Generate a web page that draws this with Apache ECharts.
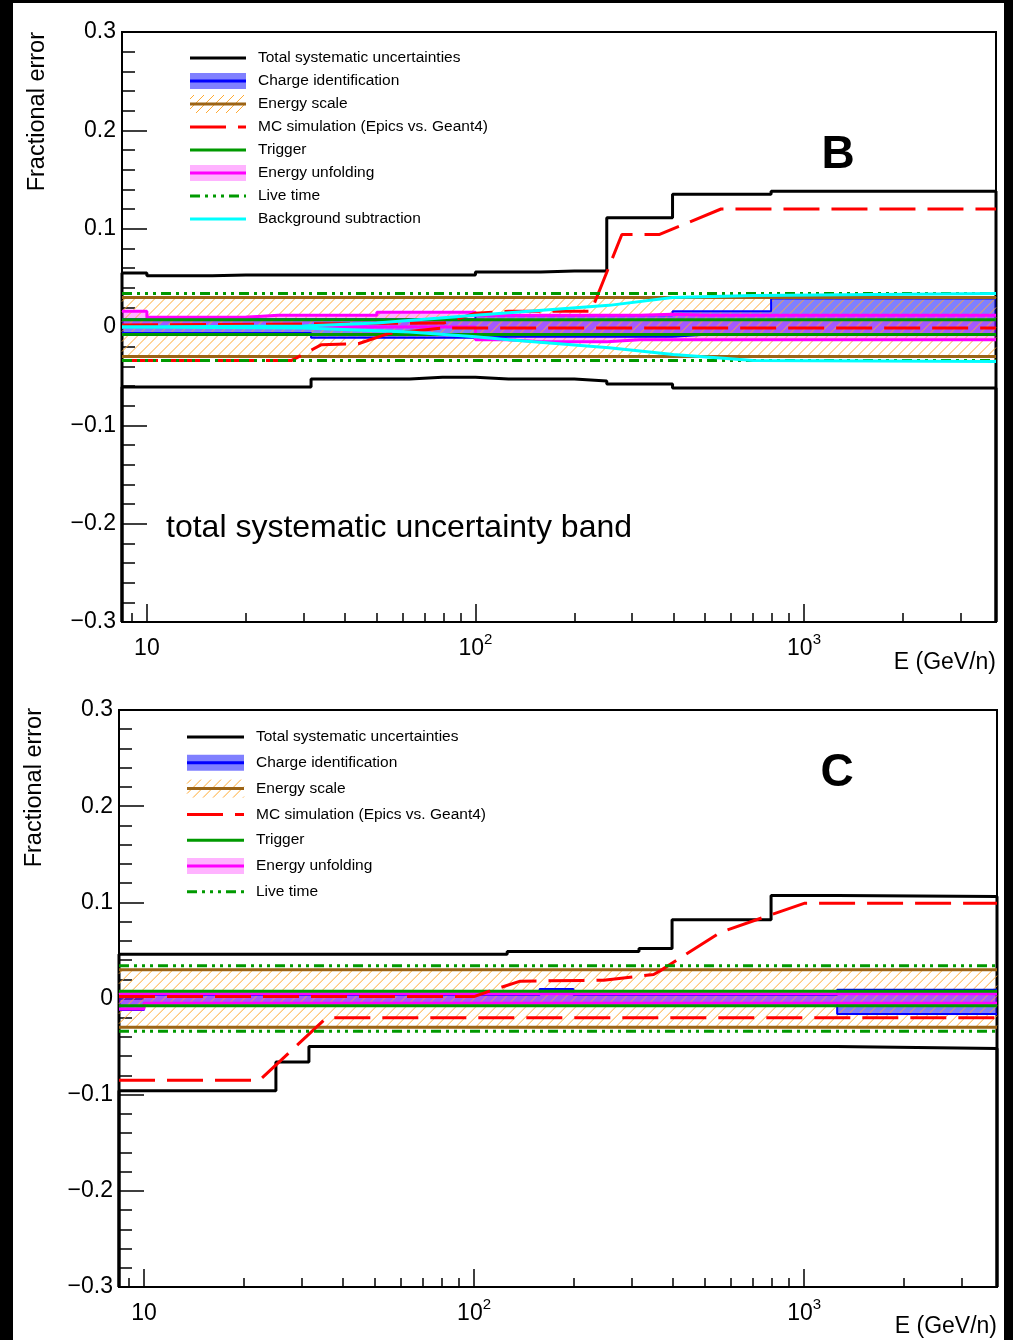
<!DOCTYPE html>
<html>
<head>
<meta charset="utf-8">
<script src="https://cdn.jsdelivr.net/npm/echarts@6/dist/echarts.min.js"></script>
<style>
  html, body { margin: 0; padding: 0; background: #fff; }
  #main { width: 1013px; height: 1340px; }
</style>
</head>
<body>
<div id="main"></div>
<script>
// energy bin edges (GeV/n)
const EDGES = [8.4, 10, 12.6, 15.8, 20, 25.1, 31.6, 39.8, 50.1, 63.1, 79.4, 100, 126, 158, 200, 251, 316, 398, 501, 631, 794, 1259, 3840];
const MAJOR_TICKS = [10, 100, 1000];
const MINOR_TICKS = [9, 20, 30, 40, 50, 60, 70, 80, 90, 200, 300, 400, 500, 600, 700, 800, 900, 2000, 3000];

// panel B, one value per bin
const B_TOTAL_UP = [0.055, 0.052, 0.052, 0.053, 0.053, 0.053, 0.053, 0.053, 0.053, 0.053, 0.053, 0.056, 0.056, 0.057, 0.057, 0.111, 0.111, 0.135, 0.135, 0.135, 0.138, 0.138];
const B_TOTAL_LO = [-0.061, -0.061, -0.061, -0.061, -0.061, -0.061, -0.053, -0.053, -0.053, -0.051, -0.051, -0.053, -0.053, -0.053, -0.055, -0.058, -0.058, -0.062, -0.062, -0.062, -0.062, -0.062];
const B_CHARGE_UP = [0.008, 0.008, 0.008, 0.008, 0.008, 0.008, 0.008, 0.008, 0.008, 0.008, 0.008, 0.012, 0.012, 0.012, 0.012, 0.012, 0.012, 0.016, 0.016, 0.016, 0.029, 0.029];
const B_CHARGE_LO = [-0.006, -0.006, -0.006, -0.006, -0.006, -0.006, -0.011, -0.011, -0.011, -0.011, -0.011, -0.010, -0.010, -0.010, -0.010, -0.010, -0.010, -0.008, -0.008, -0.008, -0.008, -0.008];
const B_UNFOLD_UP = [0.016, 0.010, 0.010, 0.010, 0.012, 0.012, 0.012, 0.012, 0.015, 0.015, 0.015, 0.012, 0.012, 0.012, 0.012, 0.012, 0.013, 0.012, 0.012, 0.012, 0.012, 0.012];
const B_UNFOLD_LO = [0.000, 0.000, 0.000, 0.000, 0.000, 0.000, 0.000, 0.000, 0.000, 0.000, 0.000, -0.013, -0.015, -0.015, -0.015, -0.013, -0.013, -0.013, -0.013, -0.013, -0.013, -0.013];
// [E, value] pairs
const B_MC_UP = [[8.4, 0.002], [80, 0.004], [100, 0.014], [126, 0.016], [225, 0.016], [279, 0.094], [362, 0.094], [559, 0.12], [3840, 0.12]];
const B_MC_LO = [[8.4, -0.034], [27.6, -0.034], [34, -0.018], [44, -0.017], [54, -0.007], [79, -0.001], [3840, -0.001]];
const B_BKG_UP = [[8.4, 0.0], [30, 0.001], [50, 0.004], [100, 0.012], [255, 0.022], [398, 0.030], [700, 0.032], [3840, 0.034]];
const B_BKG_LO = [[8.4, 0.0], [30, -0.001], [63, -0.005], [100, -0.010], [126, -0.013], [255, -0.021], [400, -0.028], [700, -0.034], [3840, -0.035]];

// panel C
const C_TOTAL_UP = [0.046, 0.046, 0.046, 0.046, 0.046, 0.046, 0.046, 0.046, 0.046, 0.046, 0.046, 0.046, 0.049, 0.049, 0.049, 0.049, 0.052, 0.082, 0.082, 0.082, 0.107, 0.106];
const C_TOTAL_LO = [-0.096, -0.096, -0.096, -0.096, -0.096, -0.066, -0.050, -0.050, -0.050, -0.050, -0.050, -0.050, -0.050, -0.050, -0.050, -0.050, -0.050, -0.050, -0.050, -0.050, -0.050, -0.052];
const C_CHARGE_UP = [0.004, 0.004, 0.004, 0.004, 0.004, 0.004, 0.004, 0.004, 0.004, 0.004, 0.004, 0.004, 0.004, 0.010, 0.004, 0.004, 0.004, 0.004, 0.004, 0.004, 0.004, 0.009];
const C_CHARGE_LO = [-0.012, -0.005, -0.005, -0.005, -0.005, -0.005, -0.005, -0.005, -0.005, -0.005, -0.005, -0.005, -0.005, -0.005, -0.005, -0.005, -0.005, -0.005, -0.005, -0.005, -0.005, -0.016];
const C_UNFOLD_UP = [0.005, 0.005, 0.005, 0.005, 0.005, 0.005, 0.005, 0.005, 0.005, 0.005, 0.005, 0.005, 0.005, 0.005, 0.005, 0.005, 0.005, 0.005, 0.005, 0.005, 0.005, 0.005];
const C_UNFOLD_LO = [-0.011, -0.005, -0.005, -0.005, -0.005, -0.005, -0.005, -0.005, -0.005, -0.005, -0.005, -0.005, -0.005, -0.005, -0.005, -0.005, -0.005, -0.005, -0.005, -0.005, -0.005, -0.005];
const C_MC_UP = [[8.4, 0.002], [100, 0.002], [112, 0.008], [138, 0.018], [247, 0.019], [350, 0.025], [367, 0.029], [559, 0.069], [1000, 0.099], [3840, 0.099]];
const C_MC_LO = [[8.4, -0.085], [22.4, -0.085], [35.7, -0.02], [3840, -0.02]];

// flat systematics (both panels)
const ENERGY_SCALE = 0.03;
const TRIGGER = 0.0075;
const LIVE_TIME = 0.034;

const Y_MIN = -0.3, Y_MAX = 0.3;
const FONT = '"Liberation Sans", Arial, Helvetica, sans-serif';
const HATCH_COLOR = '#ffaa33';
const LX = e => Math.log10(e);

// "/" hatch lines inside a pixel rectangle
function hatchLines(x0, y0, x1, y1) {
  const out = [];
  for (let c = x0 + y0 + 4; c < x1 + y1; c += 10) {
    const xa = Math.max(x0, c - y1), xb = Math.min(x1, c - y0);
    if (xb > xa) out.push({ type: 'line', shape: { x1: xa, y1: c - xa, x2: xb, y2: c - xb }, style: { stroke: HATCH_COLOR, lineWidth: 1 } });
  }
  return out;
}

// histogram outline from per-bin values
function steps(vals, drop) {
  const pts = [];
  if (drop) pts.push([LX(EDGES[0]), Y_MIN]);
  vals.forEach((v, i) => {
    pts.push([LX(EDGES[i]), v]);
    pts.push([LX(EDGES[i + 1]), v]);
  });
  if (drop) pts.push([LX(EDGES[EDGES.length - 1]), Y_MIN]);
  return pts;
}
const flat = v => EDGES.slice(1).map(() => v);
const curve = pts => pts.map(p => [LX(p[0]), p[1]]);

function lineSeries(gi, data, color, width, type, z) {
  return {
    type: 'line', xAxisIndex: gi * 2, yAxisIndex: gi, data: data,
    symbol: 'none', silent: true, animation: false, z: z,
    lineStyle: { color: color, width: width, type: type || 'solid' }
  };
}

function bandSeries(gi, lo, hi, fill, z) {
  const poly = steps(hi).concat(steps(lo).reverse());
  return {
    type: 'custom', xAxisIndex: gi * 2, yAxisIndex: gi, silent: true, animation: false, z: z,
    data: poly,
    renderItem: (params, api) => params.dataIndex ? null : {
      type: 'polygon',
      shape: { points: poly.map(p => api.coord(p)) },
      style: { fill: fill }
    }
  };
}

function hatchSeries(gi, half, z) {
  const corners = [[LX(EDGES[0]), half], [LX(EDGES[EDGES.length - 1]), -half]];
  return {
    type: 'custom', xAxisIndex: gi * 2, yAxisIndex: gi, silent: true, animation: false, z: z,
    data: corners,
    renderItem: (params, api) => {
      if (params.dataIndex) return null;
      const a = api.coord(corners[0]), b = api.coord(corners[1]);
      return { type: 'group', children: hatchLines(a[0], a[1], b[0], b[1]) };
    }
  };
}

const MC_DASH = [36, 12];
const LIVE_DASH = [10, 5, 3, 5, 3, 5, 3, 5];

function panelSeries(gi, d) {
  const s = [
    lineSeries(gi, steps(d.totUp, true), '#000', 3, 'solid', 2),
    lineSeries(gi, steps(d.totLo, true), '#000', 3, 'solid', 2),
    bandSeries(gi, d.chLo, d.chUp, 'rgba(0,0,255,0.5)', 3),
    bandSeries(gi, d.unLo, d.unUp, 'rgba(255,0,255,0.3)', 4),
    hatchSeries(gi, ENERGY_SCALE, 5),
    lineSeries(gi, steps(d.chUp), '#0000ff', 2, 'solid', 6),
    lineSeries(gi, steps(d.chLo), '#0000ff', 2, 'solid', 6),
    lineSeries(gi, steps(d.unUp), '#ff00ff', 3, 'solid', 7),
    lineSeries(gi, steps(d.unLo), '#ff00ff', 3, 'solid', 7),
    lineSeries(gi, steps(flat(ENERGY_SCALE)), '#9c6416', 3, 'solid', 8),
    lineSeries(gi, steps(flat(-ENERGY_SCALE)), '#9c6416', 3, 'solid', 8),
    lineSeries(gi, steps(flat(TRIGGER)), '#009900', 3, 'solid', 8),
    lineSeries(gi, steps(flat(-TRIGGER)), '#009900', 3, 'solid', 8),
    lineSeries(gi, curve(d.mcUp), '#ff0000', 3, MC_DASH, 9),
    lineSeries(gi, curve(d.mcLo), '#ff0000', 3, MC_DASH, 9),
    lineSeries(gi, steps(flat(LIVE_TIME)), '#009900', 3, LIVE_DASH, 9),
    lineSeries(gi, steps(flat(-LIVE_TIME)), '#009900', 3, LIVE_DASH, 9)
  ];
  if (d.bkgUp) {
    s.push(lineSeries(gi, curve(d.bkgUp), '#00ffff', 3, 'solid', 10));
    s.push(lineSeries(gi, curve(d.bkgLo), '#00ffff', 3, 'solid', 10));
  }
  return s;
}

function xAxes(gi) {
  const base = {
    type: 'value', gridIndex: gi, position: 'bottom',
    min: LX(EDGES[0]), max: LX(EDGES[EDGES.length - 1]),
    splitLine: { show: false }
  };
  return [
    Object.assign({}, base, {
      axisLine: { show: true, onZero: false, lineStyle: { color: '#000', width: 2 } },
      axisTick: { show: true, inside: true, length: 18, customValues: MAJOR_TICKS.map(LX), lineStyle: { color: '#000', width: 1.5 } },
      axisLabel: {
        customValues: MAJOR_TICKS.map(LX), margin: 10, color: '#000', fontFamily: FONT,
        formatter: v => { const p = Math.round(v); return p === 1 ? '{b|10}' : '{b|10}{s|' + p + '}'; },
        rich: {
          b: { fontSize: 23, lineHeight: 28, verticalAlign: 'bottom', fontFamily: FONT, color: '#000' },
          s: { fontSize: 15, lineHeight: 15, verticalAlign: 'top', fontFamily: FONT, color: '#000' }
        }
      }
    }),
    Object.assign({}, base, {
      axisLine: { show: false, onZero: false },
      axisTick: { show: true, inside: true, length: 9, customValues: MINOR_TICKS.map(LX), lineStyle: { color: '#000', width: 1.5 } },
      axisLabel: { show: false }
    })
  ];
}

function yAxis(gi) {
  return {
    type: 'value', gridIndex: gi, min: Y_MIN, max: Y_MAX, interval: 0.1,
    axisLine: { show: true, onZero: false, lineStyle: { color: '#000', width: 2 } },
    axisTick: { show: true, inside: true, length: 25, lineStyle: { color: '#000', width: 1.5 } },
    minorTick: { show: true, splitNumber: 5, length: 13, lineStyle: { color: '#000', width: 1.5 } },
    splitLine: { show: false },
    axisLabel: {
      margin: 6, color: '#000', fontSize: 23, fontFamily: FONT,
      formatter: v => Math.abs(v) < 1e-9 ? '0' : (v < 0 ? '\u2212' : '') + Math.abs(v).toFixed(1)
    }
  };
}

// legend drawn as graphic elements
function legend(x0, x1, tx, y0, dy, items) {
  const g = [];
  items.forEach((it, i) => {
    const y = y0 + dy * i;
    if (it.box) g.push({ type: 'rect', shape: { x: x0, y: y - 8, width: x1 - x0, height: 16 }, style: { fill: it.box } });
    if (it.hatch) g.push({ type: 'group', children: hatchLines(x0, y - 9, x1, y + 9) });
    g.push({ type: 'line', shape: { x1: x0, y1: y, x2: x1, y2: y }, style: { stroke: it.color, lineWidth: 3, lineDash: it.dash || null } });
    g.push({ type: 'text', x: tx, y: y, style: { text: it.name, fontSize: 15.5, fontFamily: FONT, fill: '#000', align: 'left', verticalAlign: 'middle' } });
  });
  return g;
}
const LEGEND_ITEMS = [
  { name: 'Total systematic uncertainties', color: '#000' },
  { name: 'Charge identification', color: '#0000ff', box: '#8080ff' },
  { name: 'Energy scale', color: '#9c6416', hatch: true },
  { name: 'MC simulation (Epics vs. Geant4)', color: '#ff0000', dash: MC_DASH },
  { name: 'Trigger', color: '#009900' },
  { name: 'Energy unfolding', color: '#ff00ff', box: '#ffb3ff' },
  { name: 'Live time', color: '#009900', dash: LIVE_DASH },
  { name: 'Background subtraction', color: '#00ffff' }
];

function txt(x, y, text, size, extra) {
  return Object.assign({ type: 'text', x: x, y: y, z: 100,
    style: Object.assign({ text: text, fontSize: size, fontFamily: FONT, fill: '#000', align: 'left', verticalAlign: 'middle' }, extra || {}) });
}

const chart = echarts.init(document.getElementById('main'), null, { renderer: 'canvas' });
chart.setOption({
  backgroundColor: '#fff',
  animation: false,
  grid: [
    { left: 122, top: 32, width: 874, height: 590, show: true, borderColor: '#000', borderWidth: 2, backgroundColor: 'transparent' },
    { left: 119, top: 710, width: 878, height: 577, show: true, borderColor: '#000', borderWidth: 2, backgroundColor: 'transparent' }
  ],
  xAxis: xAxes(0).concat(xAxes(1)),
  yAxis: [yAxis(0), yAxis(1)],
  series: panelSeries(0, {
    totUp: B_TOTAL_UP, totLo: B_TOTAL_LO, chUp: B_CHARGE_UP, chLo: B_CHARGE_LO,
    unUp: B_UNFOLD_UP, unLo: B_UNFOLD_LO, mcUp: B_MC_UP, mcLo: B_MC_LO, bkgUp: B_BKG_UP, bkgLo: B_BKG_LO
  }).concat(panelSeries(1, {
    totUp: C_TOTAL_UP, totLo: C_TOTAL_LO, chUp: C_CHARGE_UP, chLo: C_CHARGE_LO,
    unUp: C_UNFOLD_UP, unLo: C_UNFOLD_LO, mcUp: C_MC_UP, mcLo: C_MC_LO
  })),
  graphic: [
    { type: 'rect', shape: { x: 0, y: 0, width: 13, height: 1340 }, style: { fill: '#000' }, z: 100 },
    { type: 'rect', shape: { x: 0, y: 0, width: 1013, height: 3 }, style: { fill: '#000' }, z: 100 },
    { type: 'rect', shape: { x: 1004, y: 0, width: 9, height: 1340 }, style: { fill: '#000' }, z: 100 },
    txt(38, 32, 'Fractional error', 23.5, { align: 'right' }),
    txt(35, 708, 'Fractional error', 23.5, { align: 'right' }),
    txt(996, 663, 'E (GeV/n)', 23, { align: 'right' }),
    txt(997, 1327, 'E (GeV/n)', 23, { align: 'right' }),
    txt(838, 155, 'B', 46, { fontWeight: 'bold', align: 'center' }),
    txt(837, 773, 'C', 46, { fontWeight: 'bold', align: 'center' }),
    txt(166, 528, 'total systematic uncertainty band', 32)
  ].map((g, i) => (i === 3 || i === 4) ? Object.assign(g, { rotation: Math.PI / 2 }) : g)
   .concat(legend(190, 246, 258, 58, 23, LEGEND_ITEMS).map(g => Object.assign(g, { z: 90 })))
   .concat(legend(187, 244, 256, 737, 25.8, LEGEND_ITEMS.slice(0, 7)).map(g => Object.assign(g, { z: 90 })))
});
</script>
</body>
</html>
